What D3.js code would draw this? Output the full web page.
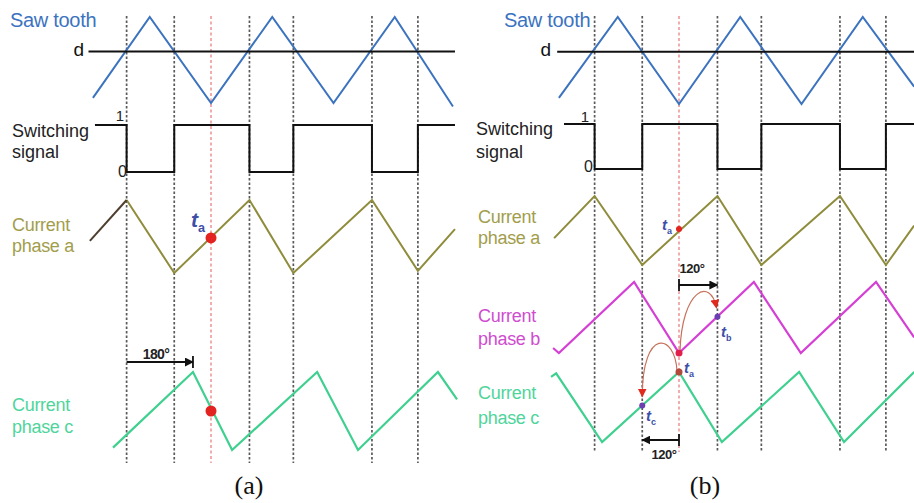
<!DOCTYPE html>
<html><head><meta charset="utf-8">
<script src="https://cdn.jsdelivr.net/npm/d3@7"></script>
<style>
body{margin:0;background:#fff}
svg{display:block}
text{font-family:"Liberation Sans",Arial,sans-serif}
text.serif{font-family:"Liberation Serif","Times New Roman",serif}
</style>
</head><body>
<svg id="c" width="914" height="503"></svg>
<script>
// Time in carrier degrees (one saw-tooth period = 360), values normalised 0..1 per row
const sawA = [[13,0.06],[180,1],[360,0],[540,1],[720,0],[900,1],[1071,-0.04]];
const sawB = [[7,0.07],[180,1],[360,0],[540,1],[720,0],[900,1],[1051,0.2]];
const dLevel = 0.6;
const dSpanA = [0,1077];
const dSpanB = [2,1051];
const edges = [112,252,473,602,833,968];
const tRef = 360;
const switchA = [[19,1],[112,0],[252,1],[473,0],[602,1],[833,0],[968,1],[1077,1]];
const switchB = [[22,1],[112,0],[252,1],[473,0],[602,1],[833,0],[968,1],[1051,1]];
const curAa = [[4,0.44],[112,1],[252,0],[473,1],[602,0],[833,1],[968,0.03],[1077,0.6]];
const curAc = [[72,0.03],[307,1],[422,0],[672,1],[792,0],[1027,1],[1083,0.65]];
const curBa = [[-7,0.39],[112,1],[252,0],[473,1],[602,0],[833,1],[968,0],[1051,0.57]];
const curBb = [[-10,0.07],[7,0],[228,1],[360,0],[580,1],[718,0],[939,1],[1051,0.22]];
const curBc = [[-16,0.93],[-1,0.98],[134,0],[360,1],[486,0],[713,1],[845,0],[1051,1]];
const shiftA = [112,307];          // 180° arrow
const shiftBtop = [360,473];       // 120° arrow (phase b)
const shiftBbot = [360,252];       // 120° arrow (phase c)
const markA = {a:0.48, c:0.5};
const markB = {a:0.52, b0:0, b:0.51, c0:1, c:0.52};
const degLabels = ["180°","120°","120°"];
const rowLabels = ["Saw tooth","d","Switching","signal","Current","phase a","phase b","phase c"];
const panelLabels = ["(a)","(b)"];

const svg = d3.select("#c");
const col = {saw:"#3c73bf", a:"#8f8c3c", aDark:"#4e3f30", aText:"#a29d4c", c:"#3fd08f", cText:"#4fd59c",
             b:"#d43fd4", bText:"#cf4ccf", red:"#e2231f", dash:"#5a5a5a", tl:"#3d4fa6", arc:"#c8725e"};

const defs = svg.append("defs");
function marker(id, color, size){
  defs.append("marker").attr("id",id).attr("viewBox","0 0 10 10").attr("refX",9).attr("refY",5)
    .attr("markerWidth",size).attr("markerHeight",size).attr("orient","auto-start-reverse")
    .attr("markerUnits","userSpaceOnUse")
    .append("path").attr("d","M0,0L10,5L0,10z").attr("fill",color);
}
marker("ah","#111",9);
marker("rh","#e02a20",9);

function xScale(x0){ return d3.scaleLinear().domain([0,360]).range([x0, x0+122.5]); }
function yRow(y0,y1){ return d3.scaleLinear().domain([0,1]).range([y0,y1]); }

function line(g, data, x, y, color, w, curve){
  g.append("path").datum(data)
    .attr("d", d3.line().x(d=>x(d[0])).y(d=>y(d[1])).curve(curve||d3.curveLinear))
    .attr("fill","none").attr("stroke",color).attr("stroke-width",w).attr("stroke-linejoin","miter");
}
function txt(g, s, x, y, size, fill, opts){
  opts = opts||{};
  return g.append("text").attr("x",x).attr("y",y).attr("font-size",size).attr("fill",fill)
    .attr("text-anchor",opts.anchor||"start").attr("font-weight",opts.weight||"normal")
    .attr("letter-spacing",opts.ls||0).text(s);
}
function tLabel(g, sub, x, y, size){
  const t = g.append("text").attr("x",x).attr("y",y).attr("font-size",size).attr("fill",col.tl)
    .attr("font-style","italic").attr("font-weight","bold");
  t.append("tspan").text("t");
  t.append("tspan").attr("font-size",size*0.6).attr("dy",size*0.25).attr("font-style","normal").text(sub);
}
function dot(g, x, y, r, fill){ g.append("circle").attr("cx",x).attr("cy",y).attr("r",r).attr("fill",fill); }
function vlines(g, x, yTop, yBot){
  g.selectAll(null).data(edges).join("line")
    .attr("x1",d=>x(d)).attr("x2",d=>x(d)).attr("y1",yTop).attr("y2",yBot)
    .attr("stroke",col.dash).attr("stroke-width",1.7).attr("stroke-dasharray","2.5,2");
  g.append("line").attr("x1",x(tRef)).attr("x2",x(tRef)).attr("y1",yTop).attr("y2",yBot)
    .attr("stroke","#e56b6b").attr("stroke-width",1.1).attr("stroke-dasharray","3,2.5");
}
function arrow(g, x1, x2, y, tickAt){
  g.append("line").attr("x1",x1).attr("x2",x2).attr("y1",y).attr("y2",y)
    .attr("stroke","#111").attr("stroke-width",1.8).attr("marker-end","url(#ah)");
  g.append("line").attr("x1",tickAt).attr("x2",tickAt).attr("y1",y-6).attr("y2",y+6)
    .attr("stroke","#111").attr("stroke-width",1.8);
}

// ---------------- Panel (a) ----------------
const gA = svg.append("g");
const xA = xScale(88.5);
const sawYA = yRow(103,17), swYA = yRow(172,125), aYA = yRow(273,200), cYA = yRow(450,372);
vlines(gA, xA, 16, 463);
line(gA, sawA, xA, sawYA, col.saw, 2);
gA.append("line").attr("x1",xA(dSpanA[0])).attr("x2",xA(dSpanA[1])).attr("y1",sawYA(dLevel)).attr("y2",sawYA(dLevel))
  .attr("stroke","#111").attr("stroke-width",2);
line(gA, switchA, xA, swYA, "#111", 2, d3.curveStepAfter);
line(gA, curAa.slice(1), xA, aYA, col.a, 2);
line(gA, curAa.slice(0,2), xA, aYA, col.aDark, 2);
line(gA, curAc, xA, cYA, col.c, 2.2);
dot(gA, xA(tRef), aYA(markA.a), 5.5, col.red);
dot(gA, xA(tRef), cYA(markA.c), 5.5, col.red);
tLabel(gA, "a", 191, 227, 21);
arrow(gA, xA(shiftA[0]), xA(shiftA[1]), 362, xA(shiftA[1]));
txt(gA, degLabels[0], 156, 359, 14, "#222", {anchor:"middle", weight:"bold", ls:-0.6});
txt(gA, rowLabels[0], 10, 27, 20, col.saw, {ls:-0.3});
txt(gA, rowLabels[1], 84, 56, 19, "#111", {anchor:"end"});
txt(gA, "1", 124, 121, 15, "#222", {anchor:"end"});
txt(gA, "0", 127, 177, 16, "#222", {anchor:"end"});
txt(gA, rowLabels[2], 12, 137, 18, "#222");
txt(gA, rowLabels[3], 12, 158, 18, "#222");
txt(gA, rowLabels[4], 12, 231, 18, col.aText, {ls:-0.3});
txt(gA, rowLabels[5], 12, 252, 18, col.aText, {ls:-0.3});
txt(gA, rowLabels[4], 12, 411, 18, col.cText, {ls:-0.3});
txt(gA, rowLabels[7], 12, 433, 18, col.cText, {ls:-0.3});
svg.append("text").attr("class","serif").attr("x",249).attr("y",494).attr("text-anchor","middle")
  .attr("font-size",26).attr("fill","#111").text(panelLabels[0]);

// ---------------- Panel (b) ----------------
const gB = svg.append("g");
const xB = xScale(556.5);
const sawYB = yRow(104,17), swYB = yRow(169,124), aYB = yRow(265,196), bYB = yRow(353,282), cYB = yRow(442,372);
vlines(gB, xB, 16, 452);
line(gB, sawB, xB, sawYB, col.saw, 2);
gB.append("line").attr("x1",xB(dSpanB[0])).attr("x2",xB(dSpanB[1])).attr("y1",sawYB(dLevel)).attr("y2",sawYB(dLevel))
  .attr("stroke","#111").attr("stroke-width",2);
line(gB, switchB, xB, swYB, "#111", 2, d3.curveStepAfter);
line(gB, curBa, xB, aYB, col.a, 2);
line(gB, curBb, xB, bYB, col.b, 2.2);
line(gB, curBc, xB, cYB, col.c, 2.2);

// curved red arrows
const sB = [xB(tRef)+1, bYB(markB.b0)-2], eB = [xB(shiftBtop[1])-1, bYB(markB.b)-9];
gB.append("path").attr("d",`M${sB[0]},${sB[1]} C${sB[0]+2},${sB[1]-62} ${eB[0]-6},${sB[1]-74} ${eB[0]},${eB[1]}`)
  .attr("fill","none").attr("stroke",col.arc).attr("stroke-width",1.2).attr("marker-end","url(#rh)");
const sC = [xB(tRef)-2, cYB(markB.c0)-1], eC = [xB(shiftBbot[1]), cYB(markB.c)-9];
gB.append("path").attr("d",`M${sC[0]},${sC[1]} C${sC[0]-2},${sC[1]-38} ${eC[0]},${sC[1]-44} ${eC[0]},${eC[1]}`)
  .attr("fill","none").attr("stroke",col.arc).attr("stroke-width",1.2).attr("marker-end","url(#rh)");

dot(gB, xB(tRef), aYB(markB.a), 3, col.red);
dot(gB, xB(tRef), bYB(markB.b0), 3.5, "#e0204a");
dot(gB, xB(tRef), cYB(markB.c0), 3.5, "#b04a3a");
dot(gB, xB(shiftBtop[1]), bYB(markB.b), 3, "#6a3fb0");
dot(gB, xB(shiftBbot[1]), cYB(markB.c), 3, "#6a3fb0");
tLabel(gB, "a", 662, 230, 15);
tLabel(gB, "a", 684, 373, 15);
tLabel(gB, "b", 721, 337, 15);
tLabel(gB, "c", 646, 421, 15);
arrow(gB, xB(shiftBtop[0]), xB(shiftBtop[1]), 285, xB(shiftBtop[0]));
arrow(gB, xB(shiftBbot[0]), xB(shiftBbot[1]), 440, xB(shiftBbot[0]));
txt(gB, degLabels[1], 692, 273, 13, "#222", {anchor:"middle", weight:"bold", ls:-0.5});
txt(gB, degLabels[2], 664, 459, 13, "#222", {anchor:"middle", weight:"bold", ls:-0.5});
txt(gB, rowLabels[0], 504, 27, 20, col.saw, {ls:-0.3});
txt(gB, rowLabels[1], 551, 56, 19, "#111", {anchor:"end"});
txt(gB, "1", 589, 122, 15, "#222", {anchor:"end"});
txt(gB, "0", 593, 172, 16, "#222", {anchor:"end"});
txt(gB, rowLabels[2], 476, 135, 18, "#222");
txt(gB, rowLabels[3], 476, 158, 18, "#222");
txt(gB, rowLabels[4], 478, 223, 18, col.aText, {ls:-0.3});
txt(gB, rowLabels[5], 478, 244, 18, col.aText, {ls:-0.3});
txt(gB, rowLabels[4], 478, 322, 18, col.bText, {ls:-0.3});
txt(gB, rowLabels[6], 478, 345, 18, col.bText, {ls:-0.3});
txt(gB, rowLabels[4], 478, 399, 18, col.cText, {ls:-0.3});
txt(gB, rowLabels[7], 478, 424, 18, col.cText, {ls:-0.3});
svg.append("text").attr("class","serif").attr("x",705).attr("y",494).attr("text-anchor","middle")
  .attr("font-size",26).attr("fill","#111").text(panelLabels[1]);
</script>
</body></html>
